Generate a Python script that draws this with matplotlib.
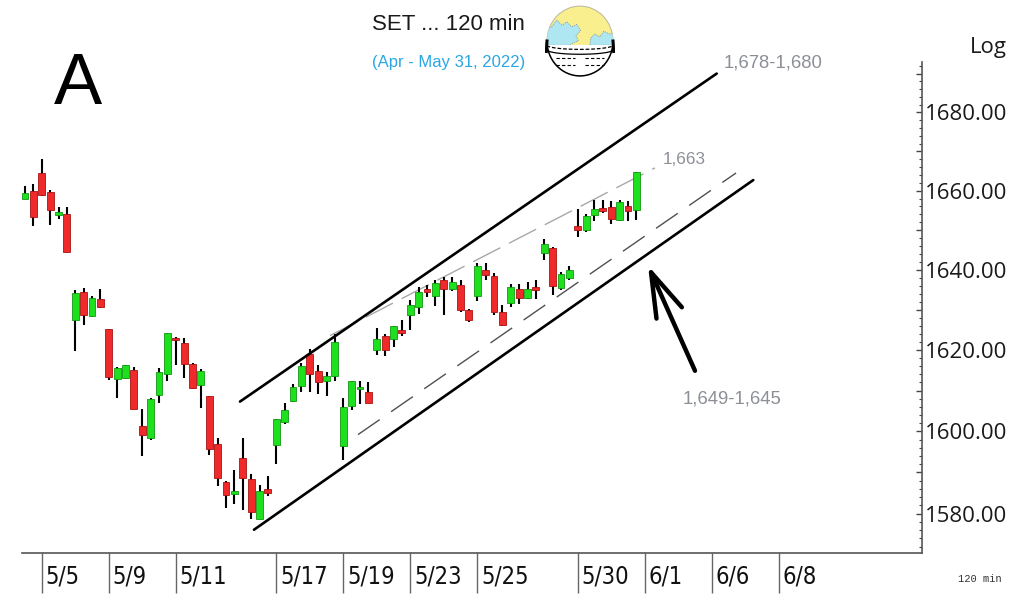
import numpy as np
import matplotlib
matplotlib.use("Agg")
import matplotlib.pyplot as plt
from matplotlib.ticker import FixedLocator, FuncFormatter, NullFormatter
from matplotlib.patches import Circle, Rectangle, Polygon
from matplotlib.transforms import blended_transform_factory

# ---------------- data (120-min bars, SET index) ----------------
opens = [1658.0, 1660.0, 1664.4, 1659.6, 1653.9, 1654.2, 1627.4, 1634.4, 1628.4, 1632.8,
         1625.3, 1612.8, 1613.1, 1615.1, 1601.4, 1598.3, 1608.8, 1614.1, 1623.1, 1621.7,
         1616.6, 1611.3, 1608.7, 1597.0, 1587.7, 1584.7, 1593.5, 1588.3, 1578.8, 1586.0,
         1596.6, 1602.2, 1607.4, 1611.2, 1619.1, 1614.9, 1612.3, 1613.7, 1596.4, 1606.2,
         1610.5, 1609.7, 1620.1, 1623.5, 1622.8, 1625.1, 1628.8, 1630.7, 1635.3, 1633.4,
         1637.5, 1635.3, 1636.3, 1630.1, 1633.4, 1639.9, 1638.6, 1629.6, 1631.8, 1635.1,
         1633.0, 1635.7, 1644.3, 1645.4, 1635.4, 1638.0, 1651.1, 1650.1, 1653.8, 1655.7,
         1655.8, 1652.5, 1656.2, 1655.1]
highs = [1661.2, 1661.7, 1668.0, 1660.2, 1655.8, 1655.8, 1634.9, 1635.4, 1633.4, 1635.3,
         1625.3, 1615.8, 1616.3, 1615.9, 1605.5, 1608.1, 1615.5, 1624.3, 1623.3, 1623.1,
         1616.7, 1615.3, 1608.7, 1598.3, 1587.9, 1590.6, 1598.3, 1589.6, 1586.9, 1589.1,
         1603.0, 1607.0, 1611.6, 1616.8, 1620.3, 1616.2, 1614.5, 1623.9, 1608.3, 1612.3,
         1612.4, 1612.0, 1625.5, 1624.1, 1626.1, 1627.4, 1632.4, 1635.7, 1636.1, 1637.4,
         1638.2, 1638.2, 1637.4, 1630.3, 1641.7, 1641.7, 1639.2, 1631.3, 1636.4, 1636.5,
         1636.9, 1637.4, 1647.9, 1645.8, 1639.4, 1641.1, 1655.4, 1654.0, 1657.7, 1657.7,
         1657.3, 1657.7, 1657.3, 1664.8]
lows = [1658.0, 1651.1, 1658.7, 1651.3, 1652.9, 1644.4, 1619.9, 1626.3, 1628.2, 1630.5,
        1612.6, 1608.1, 1612.8, 1605.4, 1594.0, 1598.0, 1607.0, 1612.4, 1616.2, 1613.2,
        1610.4, 1605.8, 1594.3, 1586.7, 1581.4, 1582.3, 1580.8, 1578.8, 1578.6, 1584.2,
        1592.0, 1601.9, 1607.2, 1609.7, 1609.7, 1609.1, 1608.7, 1612.4, 1592.9, 1605.2,
        1606.6, 1606.9, 1618.8, 1618.5, 1620.7, 1623.6, 1624.9, 1629.1, 1633.2, 1630.9,
        1628.8, 1634.6, 1629.6, 1627.1, 1632.1, 1637.4, 1628.8, 1626.1, 1630.7, 1631.5,
        1632.8, 1632.8, 1642.5, 1633.8, 1634.9, 1637.4, 1648.2, 1649.6, 1652.3, 1654.4,
        1651.5, 1652.3, 1652.3, 1652.6]
closes = [1659.4, 1653.4, 1659.0, 1655.1, 1654.6, 1644.4, 1634.3, 1628.8, 1633.0, 1630.7,
          1613.4, 1615.5, 1616.2, 1605.5, 1599.0, 1607.9, 1614.7, 1624.3, 1622.5, 1616.6,
          1610.6, 1614.9, 1595.8, 1588.6, 1584.4, 1585.4, 1588.6, 1580.4, 1585.4, 1585.0,
          1603.0, 1605.2, 1610.8, 1616.0, 1614.1, 1612.0, 1613.7, 1622.0, 1606.0, 1612.3,
          1610.9, 1607.0, 1622.8, 1620.1, 1626.1, 1624.2, 1631.3, 1634.4, 1634.4, 1636.7,
          1635.3, 1636.9, 1630.1, 1627.4, 1641.1, 1638.8, 1629.4, 1626.3, 1635.7, 1633.0,
          1635.3, 1634.9, 1646.5, 1635.9, 1638.9, 1640.1, 1650.1, 1653.6, 1655.4, 1654.8,
          1652.9, 1657.1, 1654.8, 1664.8]

day_labels = ['5/5', '5/9', '5/11', '5/17', '5/19', '5/23', '5/25', '5/30', '6/1', '6/6', '6/8']
day_bar_index = [2, 10, 18, 30, 38, 46, 54, 66, 74, 82, 90]

y_labels = [1580, 1600, 1620, 1640, 1660, 1680]

# trend lines: (bar index, price) endpoints
upper_channel = ([25.67, 82.59], [1607.3, 1690.0])
lower_channel = ([27.34, 86.96], [1576.1, 1662.7])
upper_dashed = ([36.42, 75.22], [1623.6, 1665.8])
lower_dashed = ([39.76, 84.90], [1599.2, 1664.5])
arrow_tip = (74.39, 1641.1)
arrow_tail = (80.0, 1614.9)

# ---------------- figure ----------------
W, H = 1024, 603
fig = plt.figure(figsize=(W / 100, H / 100), dpi=100)
fig.patch.set_facecolor('white')
ax = fig.add_axes([22 / W, (H - 553) / H, (921.7 - 22) / W, (553 - 62) / H])
ax.set_facecolor('white')

x = np.arange(len(opens))
o = np.array(opens); c = np.array(closes); hi = np.array(highs); lo = np.array(lows)
up = c >= o
face = np.where(up, '#1fe01f', '#f02a2a')
edge = np.where(up, '#119911', '#a81414')
bottoms = np.minimum(o, c)
heights = np.maximum(np.abs(c - o), 0.35)

ax.vlines(x, lo, hi, color='black', lw=1.5, zorder=2)
ax.bar(x, heights, bottom=bottoms, width=0.82, color=face, edgecolor=edge,
       linewidth=0.6, zorder=3)

# channel lines
ax.plot(*upper_channel, color='black', lw=1.9, zorder=4, solid_capstyle='round')
ax.plot(*lower_channel, color='black', lw=1.9, zorder=4, solid_capstyle='round')
ax.plot(*upper_dashed, color='#a8a8a8', lw=1.0, dashes=(22, 7), zorder=1)
ax.plot(*lower_dashed, color='#505050', lw=1.0, dashes=(19, 10), zorder=1)

ax.annotate('', xy=arrow_tip, xytext=arrow_tail,
            arrowprops=dict(arrowstyle='->,head_length=32,head_width=10', mutation_scale=1,
                            lw=3.2, color='black', shrinkA=0, shrinkB=0,
                            joinstyle='round', capstyle='round'), zorder=5)

# scales
ax.set_yscale('log')
ax.set_ylim(1570.5, 1693.0)
ax.set_xlim(-0.36, 107.07)

ax.yaxis.tick_right()
ax.yaxis.set_major_locator(FixedLocator(np.arange(1580, 1691, 10)))
ax.yaxis.set_minor_locator(FixedLocator(np.arange(1572, 1693, 2)))
ax.yaxis.set_major_formatter(FuncFormatter(
    lambda v, p: f'{v:.2f}' if int(round(v)) in y_labels else ''))
ax.yaxis.set_minor_formatter(NullFormatter())
ax.tick_params(axis='y', which='major', direction='in', length=4, width=1.0,
               color='#444444', pad=2.5, labelsize=16, labelcolor='#1a1a1a')
ax.tick_params(axis='y', which='minor', direction='in', length=2, width=0.8,
               color='#444444')
for t in ax.get_yticklabels():
    t.set_family(['Open Sans', 'DejaVu Sans'])

ax.set_xticks(day_bar_index)
ax.tick_params(axis='x', which='major', direction='out', length=29, width=1.0,
               color='#666666', labelbottom=False)
trans = blended_transform_factory(ax.transData, ax.transAxes)
for lab, xi in zip(day_labels, day_bar_index):
    ax.text(xi + 0.45, -0.048, lab, transform=trans, ha='left', va='center',
            fontsize=17, family=['Liberation Sans Narrow', 'DejaVu Sans'],
            stretch='condensed', color='#111111')

for s in ['top', 'left']:
    ax.spines[s].set_visible(False)
for s in ['right', 'bottom']:
    ax.spines[s].set_color('#555555')
    ax.spines[s].set_linewidth(1.2)

# ---------------- texts ----------------
def ft(px, py, s, **kw):
    fig.text(px / W, 1 - py / H, s, **kw)

ft(78, 86, 'A', fontsize=52, ha='center', va='center', family=['Liberation Sans', 'DejaVu Sans'])
ft(448, 24, 'SET ... 120 min', fontsize=16, ha='center', va='center', color='#1a1a1a',
   family=['Liberation Sans', 'DejaVu Sans'])
ft(449, 62, '(Apr - May 31, 2022)', fontsize=12, ha='center', va='center', color='#2aa6e4',
   family=['Liberation Sans', 'DejaVu Sans'])
ft(1007, 47, 'Log', fontsize=16, ha='right', va='center', color='#1a1a1a',
   family=['Open Sans', 'DejaVu Sans'])
ft(773, 63.5, '1,678-1,680', fontsize=13.3, ha='center', va='center', color='#8c8f96',
   family=['Liberation Sans', 'DejaVu Sans'])
ft(684.5, 159.5, '1,663', fontsize=12.3, ha='center', va='center', color='#8c8f96',
   family=['Liberation Sans', 'DejaVu Sans'])
ft(732.5, 399.5, '1,649-1,645', fontsize=13.3, ha='center', va='center', color='#8c8f96',
   family=['Liberation Sans', 'DejaVu Sans'])
ft(980, 579, '120 min', fontsize=7.5, ha='center', va='center', color='#333333',
   family=['Liberation Mono', 'DejaVu Sans Mono'])

# ---------------- globe icon ----------------
gax = fig.add_axes([545 / W, 1 - 78 / H, 70 / W, 74 / H])
gax.set_xlim(-1.06, 1.06); gax.set_ylim(-1.06, 1.06)
gax.axis('off')
globe = Circle((0, 0), 1.0, facecolor='#f9ef8e', edgecolor='#b8b49a', lw=0.7)
gax.add_patch(globe)
blobs = [
    [(-1.05, -0.12), (-1.05, 0.3), (-0.85, 0.42), (-0.7, 0.6), (-0.55, 0.45), (-0.4, 0.55),
     (-0.25, 0.4), (-0.1, 0.48), (0.02, 0.3), (-0.12, 0.15), (-0.05, 0.0), (-0.2, -0.05),
     (-0.3, -0.12)],
    [(0.3, -0.12), (0.32, 0.08), (0.45, 0.2), (0.6, 0.12), (0.72, 0.28), (0.9, 0.2),
     (1.05, 0.25), (1.05, -0.12)],
]
for b in blobs:
    p = Polygon(b, closed=True, facecolor='#aee6f2', edgecolor='#7f949a', lw=0.5,
                linestyle=(0, (2, 1.5)))
    gax.add_patch(p)
    p.set_clip_path(globe)
low = Rectangle((-1.1, -1.1), 2.2, 0.98, facecolor='white', edgecolor='none')
gax.add_patch(low); low.set_clip_path(globe)
th = np.linspace(np.pi * 1.04, np.pi * 1.96, 60)
gax.plot(np.cos(th), np.sin(th), color='black', lw=1.1)
ell = np.linspace(np.pi, 2 * np.pi, 40)
gax.plot(1.0 * np.cos(ell), -0.12 + 0.12 * np.sin(ell), color='black', lw=0.9,
         dashes=(3, 1.5))
gax.plot(0.98 * np.cos(ell), -0.26 + 0.12 * np.sin(ell), color='black', lw=0.9)
gax.plot([-1.02, -1.0], [-0.3, 0.0], color='black', lw=2.2)
gax.plot([1.02, 1.0], [-0.3, 0.0], color='black', lw=2.2)
for yy in [-0.5, -0.68]:
    gax.plot([-0.72, -0.15], [yy, yy], color='black', lw=0.8, dashes=(3, 2))
    gax.plot([0.15, 0.72], [yy, yy], color='black', lw=0.8, dashes=(3, 2))

fig.savefig('out.png', dpi=100, facecolor='white')
